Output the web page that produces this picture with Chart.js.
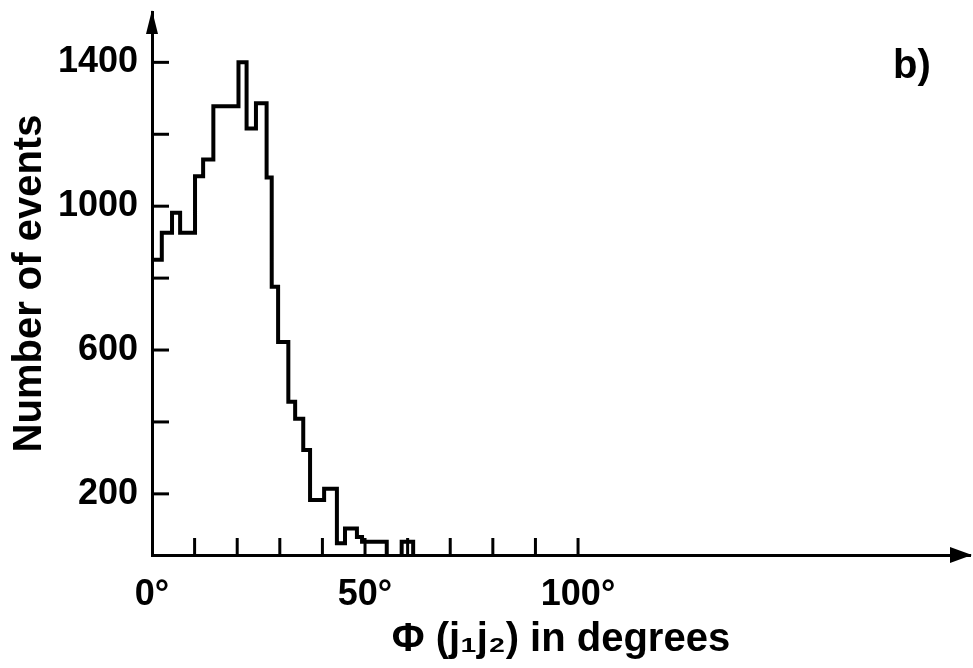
<!DOCTYPE html>
<html>
<head>
<meta charset="utf-8">
<script src="https://cdn.jsdelivr.net/npm/chart.js@4"></script>
<style>
html,body{margin:0;padding:0;background:#fff;}
#wrap{width:973px;height:668px;position:relative;}
</style>
</head>
<body>
<div id="wrap"><canvas id="c"></canvas></div>
<script>
// Histogram bins: left edges (degrees) plus the final right edge, and event counts per bin
const binEdges = [0, 2.3, 4.7, 6.6, 10.1, 12.0, 14.4, 20.3, 22.2, 24.4, 26.9, 28.1, 29.6, 32.0, 33.6, 35.5, 37.1, 40.4, 43.4, 45.3, 48.1, 49.3, 55.1, 58.6, 61.3];
const binCounts = [851, 926, 982, 926, 1083, 1130, 1278, 1400, 1216, 1286, 1080, 776, 622, 456, 409, 322, 183, 214, 63, 104, 80, 67, 0, 67];

// Axis ticks
const xTickValues = [0, 10, 20, 30, 40, 50, 60, 70, 80, 90, 100];
const xTickLabels = ['0°', '', '', '', '', '50°', '', '', '', '', '100°'];
const yTickValues = [200, 400, 600, 800, 1000, 1200, 1400];
const yTickLabels = ['200', '', '600', '', '1000', '', '1400'];

const xTitle = 'Φ (j₁j₂) in degrees';
const yTitle = 'Number of events';
const panelLabel = 'b)';

const FONT = '"Liberation Sans", Arial, sans-serif';

const points = binEdges.map((e, i) => ({ x: e, y: i < binCounts.length ? binCounts[i] : 0 }));

const axisDecor = {
  id: 'axisDecor',
  afterDatasetsDraw(chart) {
    const { ctx, chartArea: a, scales: { x, y } } = chart;
    ctx.save();
    ctx.strokeStyle = '#000';
    ctx.fillStyle = '#000';
    ctx.lineWidth = 3;
    ctx.lineCap = 'butt';
    xTickValues.forEach(v => {
      if (v === 0) return;
      const px = x.getPixelForValue(v);
      ctx.beginPath(); ctx.moveTo(px, a.bottom); ctx.lineTo(px, a.bottom - 17); ctx.stroke();
    });
    yTickValues.forEach(v => {
      const py = y.getPixelForValue(v);
      ctx.beginPath(); ctx.moveTo(a.left, py); ctx.lineTo(a.left + 17, py); ctx.stroke();
    });
    // arrow heads
    ctx.beginPath();
    ctx.moveTo(a.right + 2, a.bottom);
    ctx.lineTo(a.right - 20, a.bottom - 8);
    ctx.lineTo(a.right - 20, a.bottom + 8);
    ctx.closePath(); ctx.fill();
    ctx.beginPath();
    ctx.moveTo(a.left, a.top - 2);
    ctx.lineTo(a.left - 6, a.top + 22);
    ctx.lineTo(a.left + 6, a.top + 22);
    ctx.closePath(); ctx.fill();
    // panel label
    ctx.font = 'bold 40px ' + FONT;
    ctx.textAlign = 'left';
    ctx.textBaseline = 'alphabetic';
    ctx.fillText(panelLabel, a.right - 77, 78);
    ctx.restore();
  }
};

new Chart(document.getElementById('c'), {
  type: 'line',
  data: {
    datasets: [{
      data: points,
      stepped: 'before',
      borderColor: '#000',
      borderWidth: 4,
      pointRadius: 0,
      fill: false,
      clip: { left: 5, top: 5, right: 5, bottom: 0 }
    }]
  },
  options: {
    responsive: true,
    maintainAspectRatio: false,
    animation: false,
    layout: { padding: { left: 2, right: 3, top: 12, bottom: 0 } },
    plugins: { legend: { display: false }, tooltip: { enabled: false } },
    scales: {
      x: {
        type: 'linear',
        min: 0,
        max: 192,
        afterBuildTicks: s => { s.ticks = xTickValues.map(v => ({ value: v })); },
        afterFit: s => { s.height = 113; s.paddingLeft = 0; s.paddingRight = 0; },
        ticks: {
          autoSkip: false,
          maxRotation: 0,
          padding: 18,
          color: '#000',
          font: { family: FONT, weight: 'bold', size: 36 },
          callback: (v) => { const i = xTickValues.indexOf(v); return i >= 0 ? xTickLabels[i] : ''; }
        },
        grid: { display: false, drawTicks: false },
        border: { display: true, color: '#000', width: 3 },
        title: {
          display: true, text: xTitle, color: '#000',
          font: { family: FONT, weight: 'bold', size: 40 },
          padding: { top: 4, bottom: 4 }
        }
      },
      y: {
        type: 'linear',
        min: 30,
        max: 1540,
        afterBuildTicks: s => { s.ticks = yTickValues.map(v => ({ value: v })); },
        afterFit: s => { s.width = 150; s.paddingTop = 0; s.paddingBottom = 0; },
        ticks: {
          autoSkip: false,
          padding: 14,
          color: '#000',
          font: { family: FONT, weight: 'bold', size: 36 },
          callback: (v) => { const i = yTickValues.indexOf(v); return i >= 0 ? yTickLabels[i] : ''; }
        },
        grid: { display: false, drawTicks: false },
        border: { display: true, color: '#000', width: 3 },
        title: {
          display: true, text: yTitle, color: '#000',
          font: { family: FONT, weight: 'bold', size: 40 },
          padding: { top: 4, bottom: 0 }
        }
      }
    }
  },
  plugins: [axisDecor]
});
</script>
</body>
</html>
